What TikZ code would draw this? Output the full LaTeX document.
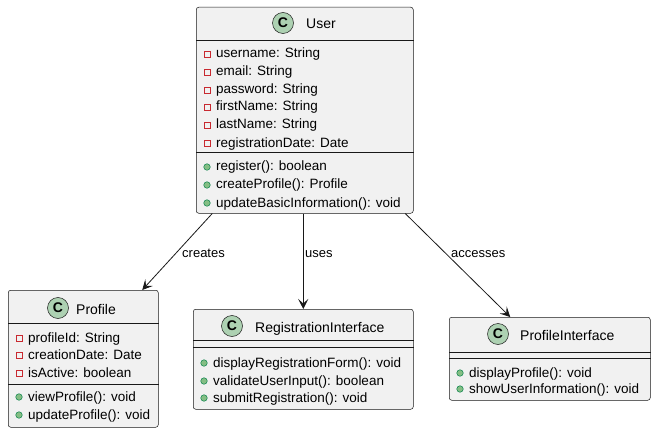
\documentclass[tikz,border=0pt]{standalone}
\usepackage{fontspec}
\setmainfont{Liberation Sans}
\usetikzlibrary{arrows.meta}
\definecolor{boxfill}{HTML}{F1F1F1}
\definecolor{boxline}{HTML}{181818}
\definecolor{spotfill}{HTML}{ADD1B2}
\definecolor{privred}{HTML}{C82930}
\definecolor{pubfill}{HTML}{84BE84}
\definecolor{publine}{HTML}{038048}
\begin{document}
\begin{tikzpicture}[x=1pt,y=-1pt,
  classbox/.style={draw=boxline, fill=boxfill, rounded corners=2.5pt, line width=0.5pt,
    inner sep=0pt, anchor=north west},
  sepline/.style={draw=boxline, line width=0.5pt},
  spot/.style={circle, draw=boxline, fill=spotfill, line width=0.5pt, minimum size=21pt,
    inner sep=0pt, font=\fontsize{14}{14}\selectfont\bfseries},
  cname/.style={font=\fontsize{14}{16}\selectfont, inner sep=0pt, anchor=base west},
  member/.style={font=\fontsize{13.5}{15}\selectfont, inner sep=0pt, anchor=base west},
  priv/.style={rectangle, draw=privred, line width=0.6pt, minimum size=6pt, inner sep=0pt},
  pub/.style={circle, draw=publine, fill=pubfill, line width=0.5pt, minimum size=6.5pt, inner sep=0pt},
  rel/.style={draw=boxline, line width=0.8pt, -{Stealth[length=10pt,width=10pt,inset=4.5pt]}},
  lbl/.style={font=\fontsize{13}{15}\selectfont, inner sep=0pt, anchor=base west}]
\useasboundingbox (0,0) rectangle (656,433);

% ---------- User ----------
\node[classbox, minimum width=217pt, minimum height=206pt] (user) at (196,7) {};
\node[spot] (userC) at (283,23) {C};
\node[cname] (userN) at (306,29) {User};
\draw[sepline] (user.west |- 0,40) -- (user.east |- 0,40);
\draw[sepline] (user.west |- 0,152) -- (user.east |- 0,152);
\foreach \y/\t in {53/{username: String}, 71/{email: String}, 89/{password: String},
                   106/{firstName: String}, 124/{lastName: String}, 142/{registrationDate: Date}} {
  \node[priv] at (207,\y+1) {};
  \node[member] at (216,\y+5) {\t};
}
\foreach \y/\t in {166/{register(): boolean}, 184/{createProfile(): Profile},
                   202/{updateBasicInformation(): void}} {
  \node[pub] at (207,\y+1) {};
  \node[member] at (216,\y+5) {\t};
}

% ---------- Profile ----------
\node[classbox, minimum width=150pt, minimum height=137pt] (profile) at (8,290) {};
\node[spot] (profileC) at (58,308) {C};
\node[cname] (profileN) at (76,314) {Profile};
\draw[sepline] (profile.west |- 0,323) -- (profile.east |- 0,323);
\draw[sepline] (profile.west |- 0,384) -- (profile.east |- 0,384);
\foreach \y/\t in {337/{profileId: String}, 354/{creationDate: Date}, 372/{isActive: boolean}} {
  \node[priv] at (19,\y+1) {};
  \node[member] at (28,\y+5) {\t};
}
\foreach \y/\t in {396/{viewProfile(): void}, 414/{updateProfile(): void}} {
  \node[pub] at (19,\y+1) {};
  \node[member] at (28,\y+5) {\t};
}

% ---------- RegistrationInterface ----------
\node[classbox, minimum width=220pt, minimum height=100pt] (reg) at (193,309) {};
\node[spot] (regC) at (232,326) {C};
\node[cname] (regN) at (255,332) {RegistrationInterface};
\draw[sepline] (reg.west |- 0,340) -- (reg.east |- 0,340);
\draw[sepline] (reg.west |- 0,347) -- (reg.east |- 0,347);
\foreach \y/\t in {362/{displayRegistrationForm(): void}, 380/{validateUserInput(): boolean},
                   397/{submitRegistration(): void}} {
  \node[pub] at (204,\y+1) {};
  \node[member] at (213,\y+5) {\t};
}

% ---------- ProfileInterface ----------
\node[classbox, minimum width=201pt, minimum height=83pt] (pint) at (449,317) {};
\node[spot] (pintC) at (498,334) {C};
\node[cname] (pintN) at (520,340) {ProfileInterface};
\draw[sepline] (pint.west |- 0,352) -- (pint.east |- 0,352);
\draw[sepline] (pint.west |- 0,358) -- (pint.east |- 0,358);
\foreach \y/\t in {372/{displayProfile(): void}, 388/{showUserInformation(): void}} {
  \node[pub] at (460,\y+1) {};
  \node[member] at (469,\y+5) {\t};
}

% ---------- Relations ----------
\draw[rel] ([xshift=-92.5pt]user.south) -- ([xshift=59pt]profile.north);
\draw[rel] (user.south -| reg.north) -- (reg.north);
\draw[rel] ([xshift=100.5pt]user.south) -- ([xshift=-39.5pt]pint.north);
\node[lbl] (lcreates) at (182,257) {creates};
\node[lbl] (luses) at (305,257) {uses};
\node[lbl] (laccesses) at (451,257) {accesses};
\end{tikzpicture}
\end{document}
